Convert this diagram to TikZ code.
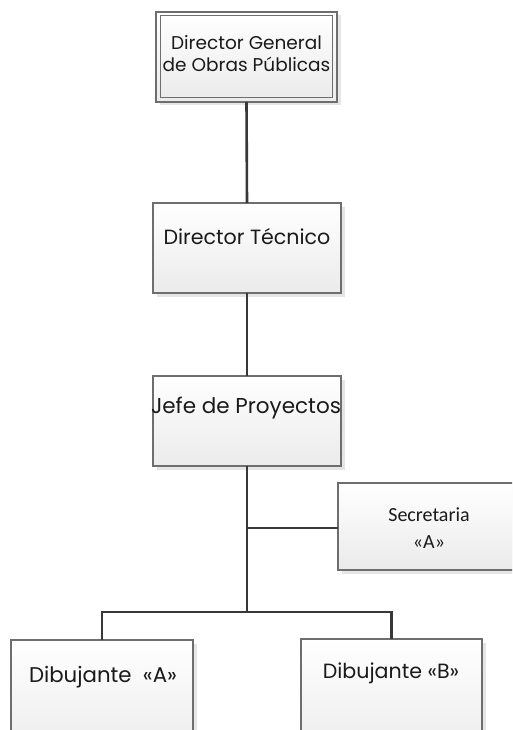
\documentclass[tikz,border=0pt]{standalone}
\usepackage{fontspec}
\setmainfont{Poppins}
\newfontfamily\calib{Carlito}
\usetikzlibrary{shadows}
\definecolor{edgec}{HTML}{6E6E6E}
\definecolor{connc}{HTML}{383838}
\definecolor{txtc}{HTML}{1A1A1A}
\tikzset{
  box/.style={draw=edgec, line width=1.1pt, top color=white, bottom color=black!8,
    anchor=north west, inner sep=0pt, outer sep=0pt,
    drop shadow={shadow xshift=3.5pt, shadow yshift=-3.5pt, fill=black!10, opacity=1}},
  conn/.style={draw=connc, line width=2.6pt},
  lbl/.style={text=txtc, inner sep=0pt, align=center, font=\fontsize{20.6}{24}\selectfont},
  slbl/.style={text=txtc, inner sep=0pt, align=center, font=\calib\fontsize{20}{27}\selectfont},
}
\begin{document}
\begin{tikzpicture}[x=1pt,y=-1pt]
\clip (0,0) rectangle (512,730);
\fill[white] (0,0) rectangle (512,730);
% boxes
\node[box, minimum width=181pt, minimum height=90pt] (gen) at (156,12) {};
\draw[edgec, line width=1.1pt] ([shift={(4.5pt,-3.5pt)}]gen.north west) rectangle ([shift={(-4.5pt,4.5pt)}]gen.south east);
\node[box, minimum width=188pt, minimum height=90pt] (tec) at (153,203) {};
\node[box, minimum width=188pt, minimum height=90pt] (jefe) at (153,376) {};
\node[box, minimum width=192pt, minimum height=87pt] (sec) at (338,483) {};
\node[box, minimum width=182pt, minimum height=120pt] (dA) at (11,640) {};
\node[box, minimum width=181pt, minimum height=121pt] (dB) at (301,639) {};
% connectors
\coordinate (j1) at (247,528);
\coordinate (j2) at (247,612);
\draw[conn] (gen.south) -- (tec.north);
\draw[conn] (tec.south) -- (jefe.north);
\draw[conn] (jefe.south) -- (j2);
\draw[conn] (j1) -- (j1 -| sec.west);
\draw[conn] (dA.north) |- (j2) -| (dB.north);
% labels
\node[lbl, font=\fontsize{18.5}{22}\selectfont] (tgen) at (246.5,54) {Director General\\de Obras Públicas};
\node[lbl] (ttec) at (247,237) {Director Técnico};
\node[lbl, font=\fontsize{21.5}{24}\selectfont] (tjefe) at (246,408) {Jefe de Proyectos};
\node[slbl] (tsec) at (429,528) {Secretaria\\«A»};
\node[lbl, font=\fontsize{21.3}{24}\selectfont] (tdA) at (103,677) {Dibujante \ «A»};
\node[lbl] (tdB) at (391,673) {Dibujante «B»};
\end{tikzpicture}
\end{document}
